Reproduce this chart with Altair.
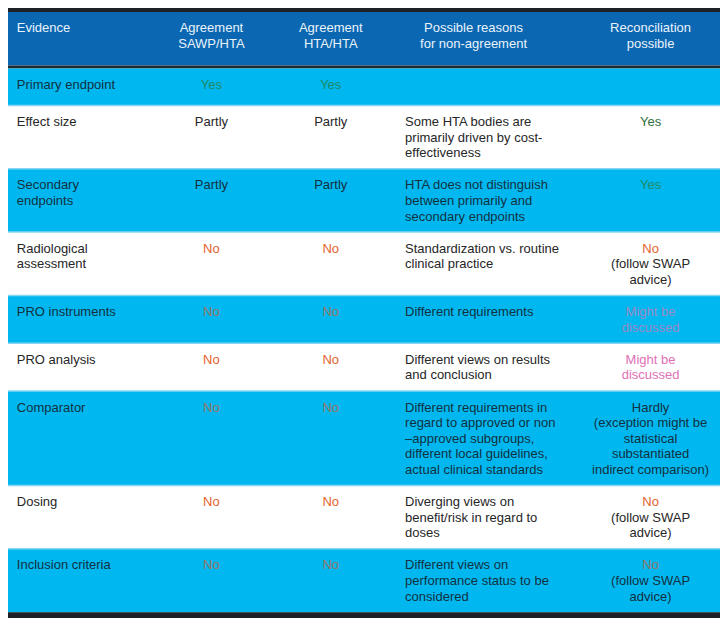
import altair as alt
import pandas as pd

# ---- table content ----
header = ["Evidence", "Agreement\nSAWP/HTA", "Agreement\nHTA/HTA",
          "Possible reasons\nfor non-agreement", "Reconciliation\npossible"]
evidence = ["Primary endpoint", "Effect size", "Secondary\nendpoints",
            "Radiological\nassessment", "PRO instruments", "PRO analysis",
            "Comparator", "Dosing", "Inclusion criteria"]
agree_sawp = ["Yes", "Partly", "Partly", "No", "No", "No", "No", "No", "No"]
agree_hta = ["Yes", "Partly", "Partly", "No", "No", "No", "No", "No", "No"]
reasons = [
    "",
    "Some HTA bodies are\nprimarily driven by cost-\neffectiveness",
    "HTA does not distinguish\nbetween primarily and\nsecondary endpoints",
    "Standardization vs. routine\nclinical practice",
    "Different requirements",
    "Different views on results\nand conclusion",
    "Different requirements in\nregard to approved or non\n\u2013approved subgroups,\ndifferent local guidelines,\nactual clinical standards",
    "Diverging views on\nbenefit/risk in regard to\ndoses",
    "Different views on\nperformance status to be\nconsidered",
]
reconciliation = [
    "",
    "Yes",
    "Yes",
    "No\n(follow SWAP\nadvice)",
    "Might be\ndiscussed",
    "Might be\ndiscussed",
    "Hardly\n(exception might be\nstatistical\nsubstantiated\nindirect comparison)",
    "No\n(follow SWAP\nadvice)",
    "No\n(follow SWAP\nadvice)",
]
row_shaded = [True, False, True, False, True, False, True, False, True]

# ---- layout / style ----
REF_W, REF_H = 728, 626
W, H = 712, 610
LINE = 16
FONT = "Liberation Sans"
CYAN = "#00b8ef"
HEAD = "#0b67b1"
DARK = "#1d2126"
col_x = [9, 208, 330, 406, 657]
col_align = ["left", "center", "center", "left", "center"]
head_x = [9, 208, 330, 476, 657]
head_align = ["left", "center", "center", "center", "center"]

word_colors = {
    "Yes": ("#1f8a66", "#2f6e3c"),
    "No": ("#9a7466", "#e4622c"),
    "Might be": ("#9b88c6", "#e070b6"),
    "discussed": ("#9b88c6", "#e070b6"),
}
text_dark = ("#14303f", "#262626")

rects = [dict(y0=0, y1=4, fill=DARK), dict(y0=4, y1=59, fill=HEAD),
         dict(y0=59, y1=62, fill="#1f2a35")]
texts = []
seps = []

for j, h in enumerate(header):
    for k, line in enumerate(h.split("\n")):
        texts.append(dict(x=head_x[j], y=21 + k * 15.5, text=line,
                          color="#eaf3fb", align=head_align[j]))

top = 62
for i in range(len(evidence)):
    cells = [evidence[i], agree_sawp[i], agree_hta[i], reasons[i], reconciliation[i]]
    n = max(len(c.split("\n")) for c in cells)
    h = max(38, n * LINE + 17)
    shaded = row_shaded[i]
    rects.append(dict(y0=top, y1=top + h, fill=CYAN if shaded else "#ffffff"))
    if i > 0:
        seps.append(dict(y=top))
    idx = 0 if shaded else 1
    for j, c in enumerate(cells):
        if not c:
            continue
        for k, line in enumerate(c.split("\n")):
            col = word_colors.get(line, text_dark)[idx]
            texts.append(dict(x=col_x[j], y=top + 17 + k * LINE, text=line,
                              color=col, align=col_align[j]))
    top += h
rects.append(dict(y0=top, y1=REF_H, fill=DARK))

rect_df = pd.DataFrame(rects)
text_df = pd.DataFrame(texts)
sep_df = pd.DataFrame(seps)

xs = alt.Scale(domain=[0, REF_W])
ys = alt.Scale(domain=[0, REF_H], reverse=True)

bg = alt.Chart(rect_df).mark_rect().encode(
    x=alt.value(0), x2=alt.value(W),
    y=alt.Y("y0:Q", scale=ys, axis=None),
    y2="y1:Q",
    color=alt.Color("fill:N", scale=None),
)

sep = alt.Chart(sep_df).mark_rule(color="#86d5f3", strokeWidth=1.5).encode(
    y=alt.Y("y:Q", scale=ys, axis=None)
)

def text_layer(align):
    return alt.Chart(text_df).transform_filter(
        alt.datum.align == align
    ).mark_text(align=align, baseline="middle", font=FONT, fontSize=13).encode(
        x=alt.X("x:Q", scale=xs, axis=None),
        y=alt.Y("y:Q", scale=ys, axis=None),
        text="text:N",
        color=alt.Color("color:N", scale=None),
    )

chart = alt.layer(bg, sep, text_layer("left"), text_layer("center")).properties(
    width=W, height=H, padding=0, autosize=alt.AutoSizeParams(type="none"),
    background="#ffffff",
).configure_view(stroke=None)

chart.save("out.html", embed_options={"renderer": "svg", "actions": False})
